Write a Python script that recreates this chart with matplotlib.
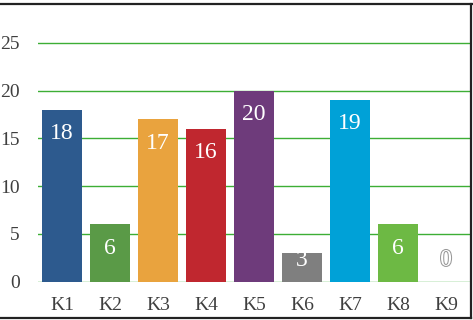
import matplotlib
matplotlib.use("Agg")
import matplotlib.pyplot as plt
import matplotlib.patheffects as pe
from matplotlib.lines import Line2D

categories = ["K1", "K2", "K3", "K4", "K5", "K6", "K7", "K8", "K9"]
values = [18, 6, 17, 16, 20, 3, 19, 6, 0]
colors = ["#2D5A8E", "#5A9A47", "#E9A33E", "#C0272F", "#6E3B7B",
          "#7F7F7F", "#00A1D7", "#6DB944", "#BBBBBB"]

plt.rcParams["font.family"] = ["Liberation Serif", "DejaVu Serif"]

fig = plt.figure(figsize=(4.73, 3.2), dpi=100)
ax = fig.add_axes([0.0803, 0.1197, 0.9134, 0.8363])

x = range(len(categories))
ax.bar(x, values, width=0.83, color=colors, zorder=3)

ax.set_xlim(-0.5, 8.5)
ax.set_ylim(0, 28)
ax.set_yticks([0, 5, 10, 15, 20, 25])
ax.set_xticks(list(x))
ax.set_xticklabels(categories)
ax.grid(axis="y", color="#3DAE35", linewidth=1.0, zorder=1)
ax.tick_params(length=0, labelsize=14, colors="#3F3F3F")
ax.tick_params(axis="y", pad=13)
ax.tick_params(axis="x", pad=11)
for s in ax.spines.values():
    s.set_visible(False)

for i, v in enumerate(values):
    y = max(v - 2.5, 2.25)
    t = ax.text(i, y, str(v), ha="center", va="center", fontsize=17,
                color="white", zorder=4)
    if v == 0:
        t.set_path_effects([pe.withStroke(linewidth=1.5, foreground="#999999")])

# outer frame
for xs, ys in [([0, 1], [0.989, 0.989]), ([0.995, 0.995], [0.006, 0.989]),
               ([0, 0.995], [0.006, 0.006])]:
    fig.add_artist(Line2D(xs, ys, transform=fig.transFigure,
                          color="#222222", linewidth=1.6))

fig.savefig("out.png", dpi=100)
